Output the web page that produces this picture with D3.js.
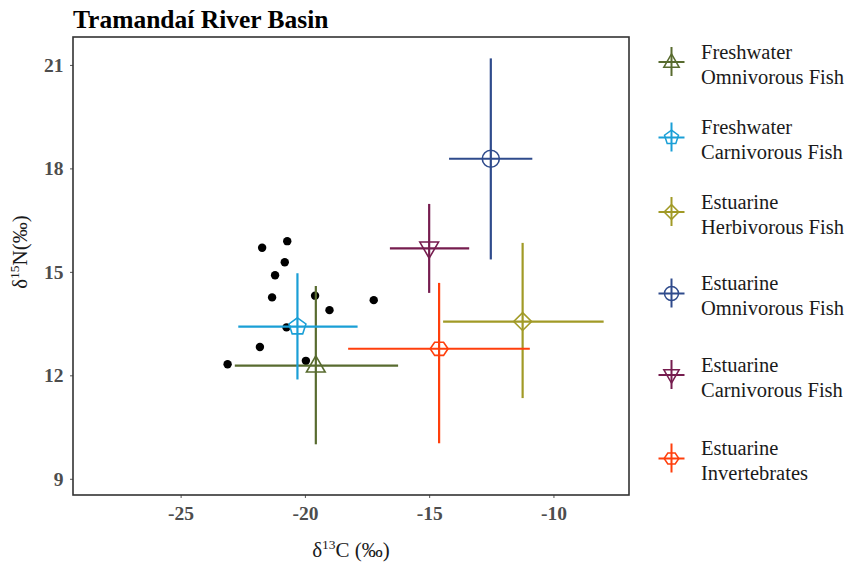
<!DOCTYPE html>
<html>
<head>
<meta charset="utf-8">
<script src="https://cdn.jsdelivr.net/npm/d3@7"></script>
<style>
  html, body { margin: 0; padding: 0; background: #fff; }
  svg { display: block; font-family: "Liberation Serif", "Times New Roman", serif; }
</style>
</head>
<body>
<svg id="chart" width="852" height="564"></svg>
<script>
// Group means (δ13C, δ15N) with error bar extents
const groups = ["Freshwater Omnivorous Fish", "Freshwater Carnivorous Fish", "Estuarine Herbivorous Fish",
                "Estuarine Omnivorous Fish", "Estuarine Carnivorous Fish", "Estuarine Invertebrates"];
const groupLines = [["Freshwater", "Omnivorous Fish"], ["Freshwater", "Carnivorous Fish"], ["Estuarine", "Herbivorous Fish"],
                    ["Estuarine", "Omnivorous Fish"], ["Estuarine", "Carnivorous Fish"], ["Estuarine", "Invertebrates"]];
const meanC  = [-19.56, -20.30, -11.24, -12.52, -15.00, -14.60];
const meanN  = [12.28, 13.41, 13.56, 18.28, 15.68, 12.77];
const cLow   = [-22.82, -22.68, -14.44, -14.20, -16.58, -18.26];
const cHigh  = [-16.25, -17.88, -7.98, -10.85, -13.39, -10.95];
const nLow   = [10.00, 11.88, 11.34, 15.36, 14.39, 10.03];
const nHigh  = [14.59, 14.96, 15.84, 21.19, 16.97, 14.68];
const groupColors = ["#586b2f", "#1a9fd6", "#a19a26", "#2f4b8c", "#761d4f", "#ff3f0c"];
const groupShapes = ["triangle", "pentagon", "diamond", "circle", "triangleDown", "hexagon"];

// Individual consumer samples
const sampleC = [-21.72, -20.71, -20.81, -21.20, -21.32, -19.59, -19.01, -17.23, -20.74, -21.81, -23.11, -19.96];
const sampleN = [15.70, 15.89, 15.28, 14.90, 14.26, 14.31, 13.89, 14.18, 13.39, 12.82, 12.32, 12.42];

const xTicks = [-25, -20, -15, -10];
const yTicks = [9, 12, 15, 18, 21];

const svg = d3.select("#chart");
const panel = { left: 73, right: 629, top: 37, bottom: 495 };

const x = d3.scaleLinear().domain([-29.33, -6.96]).range([panel.left, panel.right]);
const y = d3.scaleLinear().domain([8.53, 21.81]).range([panel.bottom, panel.top]);

// Title
svg.append("text")
  .attr("x", 73).attr("y", 27.5)
  .attr("font-size", 25.5).attr("font-weight", "bold").attr("fill", "#000")
  .text("Tramandaí River Basin");

// Axes
const tickColor = "#4d4d4d";
const xAxis = svg.append("g").attr("transform", `translate(0,${panel.bottom})`)
  .call(d3.axisBottom(x).tickValues(xTicks).tickSize(3).tickPadding(8).tickFormat(d => String(d)));
const yAxis = svg.append("g").attr("transform", `translate(${panel.left},0)`)
  .call(d3.axisLeft(y).tickValues(yTicks).tickSize(3).tickPadding(6.5).tickFormat(d => String(d)));
[xAxis, yAxis].forEach(g => {
  g.select(".domain").remove();
  g.selectAll(".tick line").attr("stroke", "#555").attr("stroke-width", 1);
  g.selectAll(".tick text")
    .attr("fill", tickColor).attr("font-size", 19.5).attr("font-weight", "bold")
    .attr("font-family", "Liberation Serif, serif");
});

// Panel border
svg.append("rect")
  .attr("x", panel.left).attr("y", panel.top)
  .attr("width", panel.right - panel.left).attr("height", panel.bottom - panel.top)
  .attr("fill", "none").attr("stroke", "#333").attr("stroke-width", 1.6);

// Axis titles
const xt = svg.append("text")
  .attr("x", (panel.left + panel.right) / 2).attr("y", 557)
  .attr("text-anchor", "middle").attr("font-size", 21).attr("fill", "#1a1a1a");
xt.append("tspan").text("δ");
xt.append("tspan").attr("font-size", 13.5).attr("dy", -8).text("13");
xt.append("tspan").attr("dy", 8).text("C (‰)");

const yt = svg.append("text")
  .attr("transform", `translate(27,252) rotate(-90)`)
  .attr("text-anchor", "middle").attr("font-size", 21).attr("fill", "#1a1a1a");
yt.append("tspan").text("δ");
yt.append("tspan").attr("font-size", 13.5).attr("dy", -8).text("15");
yt.append("tspan").attr("dy", 8).text("N(‰)");

// Marker path generator
function shapePath(shape, s) {
  const pts = [];
  if (shape === "circle") {
    return `M${-s},0A${s},${s} 0 1,0 ${s},0A${s},${s} 0 1,0 ${-s},0Z`;
  }
  if (shape === "triangle") {
    return `M0,${-s * 1.15}L${s * 1.1},${s * 0.75}L${-s * 1.1},${s * 0.75}Z`;
  }
  if (shape === "triangleDown") {
    return `M0,${s * 1.15}L${s * 1.1},${-s * 0.75}L${-s * 1.1},${-s * 0.75}Z`;
  }
  if (shape === "diamond") {
    return `M0,${-s * 1.05}L${s * 1.05},0L0,${s * 1.05}L${-s * 1.05},0Z`;
  }
  const n = shape === "pentagon" ? 5 : 6;
  const off = shape === "pentagon" ? -Math.PI / 2 : 0;
  const r = s * 1.05;
  for (let i = 0; i < n; i++) {
    const a = off + (i * 2 * Math.PI) / n;
    pts.push([r * Math.cos(a), (shape === "hexagon" ? 0.85 : 1) * r * Math.sin(a)]);
  }
  return "M" + pts.map(p => p.join(",")).join("L") + "Z";
}

// Sample points
svg.append("g").selectAll("circle")
  .data(sampleC.map((c, i) => [c, sampleN[i]]))
  .join("circle")
  .attr("cx", d => x(d[0])).attr("cy", d => y(d[1]))
  .attr("r", 4.2).attr("fill", "#000");

// Error bars and mean markers
const gg = svg.append("g").selectAll("g").data(groups).join("g");
gg.append("line")
  .attr("x1", (d, i) => x(cLow[i])).attr("x2", (d, i) => x(cHigh[i]))
  .attr("y1", (d, i) => y(meanN[i])).attr("y2", (d, i) => y(meanN[i]))
  .attr("stroke", (d, i) => groupColors[i]).attr("stroke-width", 2.2);
gg.append("line")
  .attr("x1", (d, i) => x(meanC[i])).attr("x2", (d, i) => x(meanC[i]))
  .attr("y1", (d, i) => y(nLow[i])).attr("y2", (d, i) => y(nHigh[i]))
  .attr("stroke", (d, i) => groupColors[i]).attr("stroke-width", 2.2);
gg.append("path")
  .attr("transform", (d, i) => `translate(${x(meanC[i])},${y(meanN[i])})`)
  .attr("d", (d, i) => shapePath(groupShapes[i], 8.5))
  .attr("fill", "none").attr("stroke", (d, i) => groupColors[i]).attr("stroke-width", 1.6);

// Legend
const legend = svg.append("g");
const legendY = [62, 137.5, 212, 293.5, 375, 458.5];
groups.forEach((g, i) => {
  const k = legend.append("g").attr("transform", `translate(671.5,${legendY[i]})`);
  k.append("line").attr("x1", -13).attr("x2", 13).attr("y1", 0).attr("y2", 0)
    .attr("stroke", groupColors[i]).attr("stroke-width", 2);
  k.append("line").attr("x1", 0).attr("x2", 0).attr("y1", -15).attr("y2", 14)
    .attr("stroke", groupColors[i]).attr("stroke-width", 2);
  k.append("path").attr("d", shapePath(groupShapes[i], 7))
    .attr("fill", "none").attr("stroke", groupColors[i]).attr("stroke-width", 1.5);
  const t = legend.append("text").attr("x", 701).attr("y", legendY[i] - 3.5)
    .attr("font-size", 20.5).attr("fill", "#1a1a1a");
  t.append("tspan").attr("x", 701).attr("dy", 0).text(groupLines[i][0]);
  t.append("tspan").attr("x", 701).attr("dy", 25).text(groupLines[i][1]);
});
</script>
</body>
</html>
